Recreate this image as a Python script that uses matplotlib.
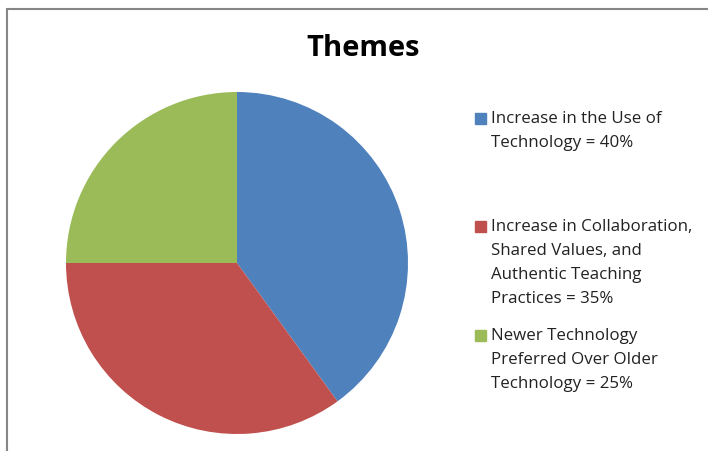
import matplotlib.pyplot as plt
from matplotlib.patches import Rectangle

W, H = 708, 451

labels = [
    'Increase in the Use of\nTechnology = 40%',
    'Increase in Collaboration,\nShared Values, and\nAuthentic Teaching\nPractices = 35%',
    'Newer Technology\nPreferred Over Older\nTechnology = 25%',
]
shares = [40, 35, 25]
colors = ['#4f81bd', '#c0504d', '#9bbb59']
legend_tops = [118, 226, 335]  # pixel y of first text line centre

plt.rcParams['font.family'] = ['Open Sans', 'DejaVu Sans']

fig = plt.figure(figsize=(W / 100, H / 100), dpi=100)

# chart border (top and left visible)
fig.patches.append(Rectangle((7 / W, -0.1), 1.2, (H - 9) / H + 0.1,
                             transform=fig.transFigure, fill=False,
                             edgecolor='#868686', linewidth=1.5))

cx, cy, r = 237, 451 - 263, 171
ax = fig.add_axes([(cx - r) / W, (cy - r) / H, 2 * r / W, 2 * r / H])
ax.pie(shares, colors=colors, startangle=90, counterclock=False,
       wedgeprops=dict(linewidth=0))
ax.set_aspect('equal')
ax.set_xlim(-1, 1)
ax.set_ylim(-1, 1)
ax.axis('off')

fig.text(363 / W, 1 - 48 / H, 'Themes', ha='center', va='center',
         fontsize=21, fontweight='bold')

for lab, col, top in zip(labels, colors, legend_tops):
    fig.patches.append(Rectangle((475 / W, 1 - (top + 6) / H), 11 / W, 11 / H,
                                 transform=fig.transFigure, color=col))
    fig.text(491 / W, 1 - (top - 7) / H, lab, ha='left', va='top',
             fontsize=12.2, color='#222222', linespacing=1.66)

fig.savefig('out.png', dpi=100)
